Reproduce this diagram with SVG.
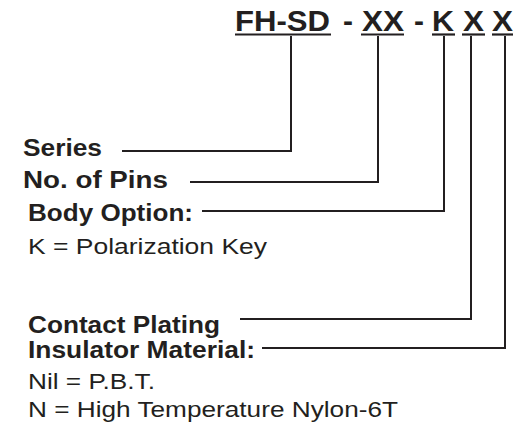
<svg xmlns="http://www.w3.org/2000/svg" width="515" height="429" viewBox="0 0 515 429">
<style>
.t{font-family:"Liberation Sans",Arial,sans-serif;fill:#231f20}
.h{font-size:30px;font-weight:bold}
.b{font-size:23.5px;font-weight:bold}
.r{font-size:21.5px}
.c{stroke:#231f20;stroke-width:2;fill:none}
.u{stroke:#231f20;stroke-width:2.2}
</style>
<rect width="515" height="429" fill="#fff"/>
<g id="title">
<text class="t h" x="235" y="31" textLength="95" lengthAdjust="spacingAndGlyphs">FH-SD</text>
<text class="t h" x="343" y="31">-</text>
<text class="t h" x="362" y="31" textLength="42" lengthAdjust="spacingAndGlyphs">XX</text>
<text class="t h" x="414" y="31">-</text>
<text class="t h" x="432" y="31" textLength="22" lengthAdjust="spacingAndGlyphs">K</text>
<text class="t h" x="463" y="31" textLength="21" lengthAdjust="spacingAndGlyphs">X</text>
<text class="t h" x="492" y="31" textLength="21" lengthAdjust="spacingAndGlyphs">X</text>
<line class="u" x1="235" y1="34.5" x2="331" y2="34.5"/>
<line class="u" x1="361" y1="34.5" x2="404" y2="34.5"/>
<line class="u" x1="432" y1="34.5" x2="455" y2="34.5"/>
<line class="u" x1="462" y1="34.5" x2="485" y2="34.5"/>
<line class="u" x1="492" y1="34.5" x2="513" y2="34.5"/>
</g>
<g id="series"><text class="t b" x="23" y="156" textLength="79" lengthAdjust="spacingAndGlyphs">Series</text></g>
<g id="pins"><text class="t b" x="23" y="188" textLength="145" lengthAdjust="spacingAndGlyphs">No. of  Pins</text></g>
<g id="body"><text class="t b" x="28" y="221" textLength="165" lengthAdjust="spacingAndGlyphs">Body Option:</text>
<text class="t r" x="28" y="254" textLength="239" lengthAdjust="spacingAndGlyphs">K = Polarization Key</text></g>
<g id="contact"><text class="t b" x="28" y="333" textLength="192" lengthAdjust="spacingAndGlyphs">Contact Plating</text></g>
<g id="insulator"><text class="t b" x="28" y="358" textLength="227" lengthAdjust="spacingAndGlyphs">Insulator Material:</text>
<text class="t r" x="28" y="389" textLength="127" lengthAdjust="spacingAndGlyphs">Nil = P.B.T.</text>
<text class="t r" x="28" y="417" textLength="370" lengthAdjust="spacingAndGlyphs">N = High Temperature Nylon-6T</text></g>
<g id="connectors">
<polyline class="c" points="291,36 291,151 122,151"/>
<polyline class="c" points="378,36 378,182 190,182"/>
<polyline class="c" points="444,36 444,211 202,211"/>
<polyline class="c" points="471,36 471,319 240,319"/>
<polyline class="c" points="505,36 505,348 262,348"/>
</g>
</svg>
